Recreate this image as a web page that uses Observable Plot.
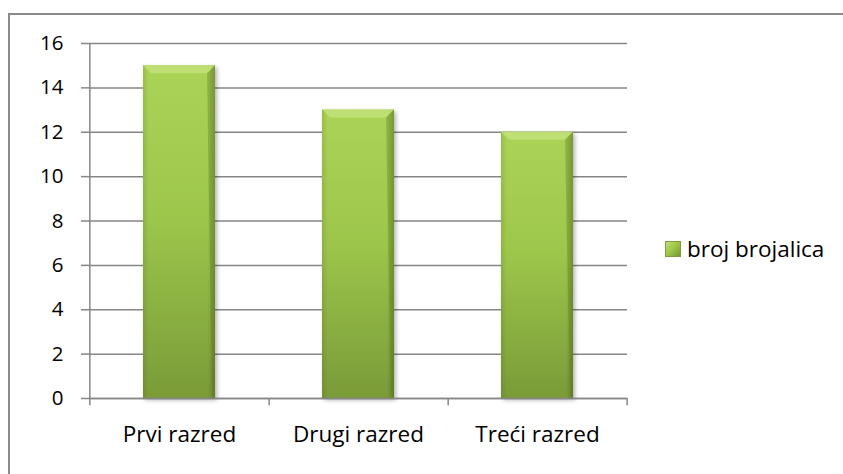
<!DOCTYPE html>
<html>
<head>
<meta charset="utf-8">
<script src="https://cdn.jsdelivr.net/npm/d3@7"></script>
<script src="https://cdn.jsdelivr.net/npm/@observablehq/plot@0.6"></script>
<style>
  html, body { margin: 0; padding: 0; background: #fff; }
  #wrap { position: relative; width: 843px; height: 474px; overflow: hidden; font-family: "Open Sans", sans-serif; }
  #frame { position: absolute; left: 8px; top: 13px; width: 900px; height: 520px; border: 2px solid #8a8a8a; box-sizing: border-box; }
  #legend { position: absolute; left: 665px; top: 233px; font-size: 22.5px; line-height: 32px; color: #000; display: flex; align-items: center; }
  #legend .sw { width: 16px; height: 16px; margin-right: 6px; background: linear-gradient(135deg, #c4e27a 0%, #9cc648 50%, #6f8f30 100%); box-shadow: inset 0 0 0 1px #7d9e3a; }
  #chart { position: absolute; left: 0; top: 0; }
</style>
</head>
<body>
<div id="wrap">
  <div id="frame"></div>
  <div id="chart"></div>
  <div id="legend"><span class="sw"></span><span id="legendText"></span></div>
</div>
<script>
const categories = ["Prvi razred", "Drugi razred", "Treći razred"];
const values = [15, 13, 12];
const yTicks = [0, 2, 4, 6, 8, 10, 12, 14, 16];
const seriesName = "broj brojalica";

const data = categories.map((c, i) => ({category: c, value: values[i]}));

const W = 843, H = 474, mL = 89, mR = 216, mT = 43, mB = 76;
const step = (W - mL - mR) / categories.length;
const grey = "#868686";

const chart = Plot.plot({
  width: W,
  height: H,
  marginLeft: mL,
  marginRight: mR,
  marginTop: mT,
  marginBottom: mB,
  style: {fontFamily: "'Open Sans', sans-serif", fontSize: "20px", color: "#000", background: "transparent"},
  x: {domain: categories, paddingInner: 0.6, paddingOuter: 0.3, label: null},
  y: {domain: [0, 16], label: null},
  marks: [
    Plot.gridY(yTicks, {stroke: grey, strokeOpacity: 1, strokeWidth: 1.5}),
    Plot.axisY(yTicks, {tickSize: 8, tickPadding: 18, stroke: grey, strokeWidth: 1.5, tickFormat: d => String(d), fontSize: 20.5}),
    Plot.ruleX([categories[0]], {stroke: grey, strokeWidth: 1.5, dx: -step / 2}),
    Plot.ruleX(categories, {y1: 0, y2: -0.33, stroke: grey, strokeWidth: 1.5, dx: step / 2}),
    Plot.ruleX([categories[0]], {y1: 0, y2: -0.33, stroke: grey, strokeWidth: 1.5, dx: -step / 2}),
    Plot.rectY(data, {x: "category", y: "value", fill: "#94bd48", className: "bars"}),
    Plot.rectY(data, {x: "category", y: "value", fill: "#000", className: "bevel"}),
    Plot.ruleY([0], {stroke: grey, strokeWidth: 1.5}),
    Plot.axisX({tickSize: 0, tickPadding: 28, fontSize: 22.5})
  ]
});

const ns = "http://www.w3.org/2000/svg";
const defs = document.createElementNS(ns, "defs");
defs.innerHTML = `
  <linearGradient id="gv" x1="0" y1="0" x2="0" y2="1">
    <stop offset="0%" stop-color="#abd356"/>
    <stop offset="45%" stop-color="#9dc74c"/>
    <stop offset="100%" stop-color="#7a9b38"/>
  </linearGradient>
  <linearGradient id="gh" x1="0" y1="0" x2="1" y2="0">
    <stop offset="0%" stop-color="#2f4210" stop-opacity="0.15"/>
    <stop offset="8%" stop-color="#2f4210" stop-opacity="0.0"/>
    <stop offset="90%" stop-color="#2f4210" stop-opacity="0.0"/>
    <stop offset="100%" stop-color="#2f4210" stop-opacity="0.3"/>
  </linearGradient>
  <filter id="sh" x="-20%" y="-10%" width="150%" height="130%">
    <feDropShadow dx="2" dy="2" stdDeviation="2" flood-color="#000" flood-opacity="0.3"/>
  </filter>`;
chart.insertBefore(defs, chart.firstChild);
chart.querySelectorAll("g.bars rect").forEach(r => {
  r.setAttribute("fill", "url(#gv)");
  r.setAttribute("filter", "url(#sh)");
});
chart.querySelectorAll("g.bevel rect").forEach(r => {
  r.setAttribute("fill", "url(#gh)");
  const x = +r.getAttribute("x"), y = +r.getAttribute("y"), w = +r.getAttribute("width"), h = +r.getAttribute("height");
  const b = 8;
  const p = document.createElementNS(ns, "polygon");
  p.setAttribute("points", `${x},${y} ${x + w},${y} ${x + w - b},${y + b} ${x + b},${y + b}`);
  p.setAttribute("fill", "#c2e27a");
  p.setAttribute("opacity", "0.8");
  r.parentNode.appendChild(p);
  const q = document.createElementNS(ns, "polygon");
  q.setAttribute("points", `${x + w},${y} ${x + w},${y + h} ${x + w - 3},${y + h - 3} ${x + w - b},${y + b}`);
  q.setAttribute("fill", "#56731f");
  q.setAttribute("opacity", "0.3");
  r.parentNode.appendChild(q);
});
document.getElementById("chart").appendChild(chart);
document.getElementById("legendText").textContent = seriesName;
</script>
</body>
</html>
